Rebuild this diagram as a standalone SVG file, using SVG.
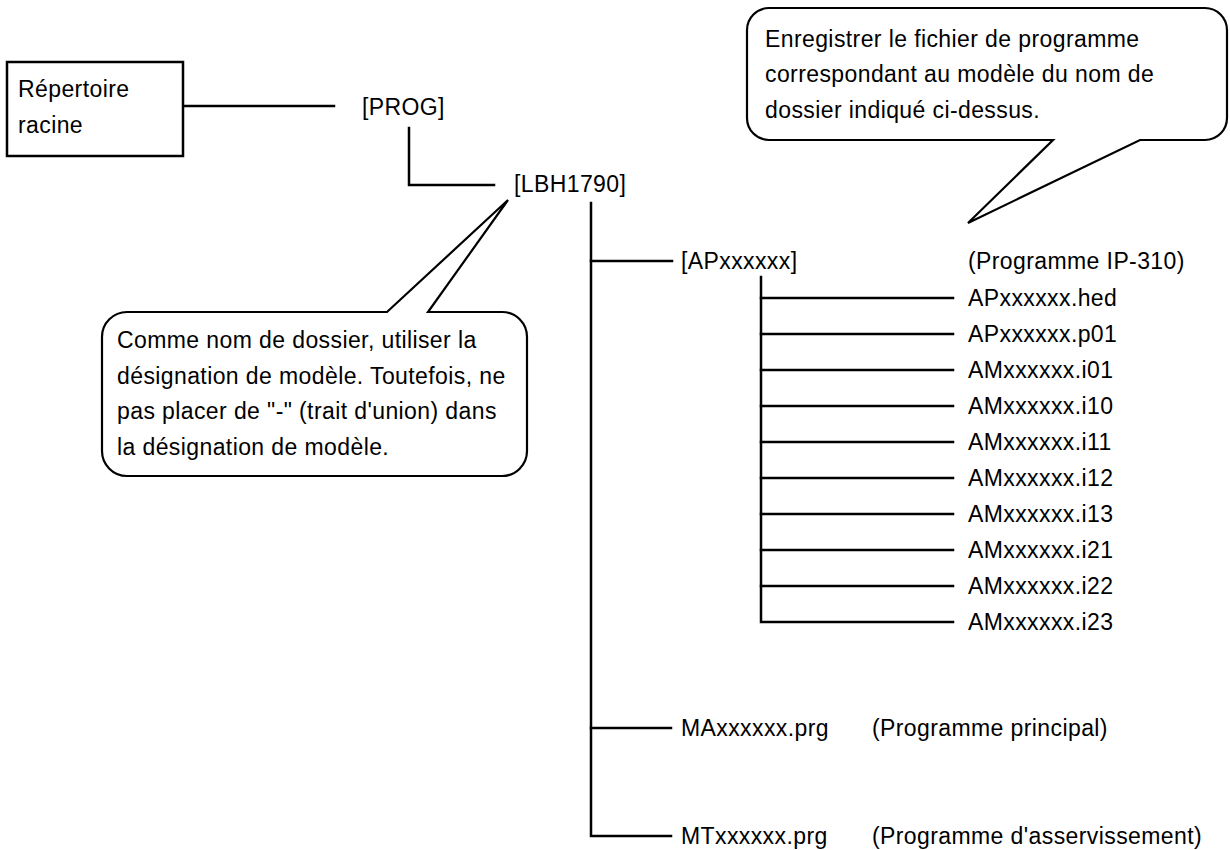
<svg xmlns="http://www.w3.org/2000/svg" width="1230" height="850" viewBox="0 0 1230 850">
<style>
text{font-family:"Liberation Sans",Arial,sans-serif;font-size:23px;letter-spacing:0.4px;fill:#000}
.ln{stroke:#000;stroke-width:2.5;fill:none;stroke-linecap:square}
.box{stroke:#000;stroke-width:2.5;fill:#fff}
.call{stroke:#000;stroke-width:2.2;fill:#fff;stroke-linejoin:miter}
</style>
<rect width="1230" height="850" fill="#fff"/>
<g id="connectors">
<path class="ln" d="M183,106 H334"/>
<path class="ln" d="M409,128 V185 H494"/>
<path class="ln" d="M591,203 V836 H671"/>
<path class="ln" d="M591,261 H672"/>
<path class="ln" d="M591,728 H671"/>
<path class="ln" d="M761,277 V622 H953"/>
<path class="ln" d="M761,298 H953 M761,334 H953 M761,370 H953 M761,406 H953 M761,442 H953 M761,478 H953 M761,514 H953 M761,550 H953 M761,586 H953"/>
</g>
<g id="root">
<rect class="box" x="7" y="62" width="176" height="94"/>
<text x="18" y="97">Répertoire</text>
<text x="18" y="133">racine</text>
</g>
<g id="prog"><text x="362" y="115">[PROG]</text></g>
<g id="lbh1790"><text x="514" y="192">[LBH1790]</text></g>
<g id="apdir">
<text x="681" y="269">[APxxxxxx]</text>
<text x="968" y="269">(Programme IP-310)</text>
</g>
<g id="files">
<text x="968" y="306">APxxxxxx.hed</text>
<text x="968" y="342">APxxxxxx.p01</text>
<text x="968" y="378">AMxxxxxx.i01</text>
<text x="968" y="414">AMxxxxxx.i10</text>
<text x="968" y="450">AMxxxxxx.i11</text>
<text x="968" y="486">AMxxxxxx.i12</text>
<text x="968" y="522">AMxxxxxx.i13</text>
<text x="968" y="558">AMxxxxxx.i21</text>
<text x="968" y="594">AMxxxxxx.i22</text>
<text x="968" y="630">AMxxxxxx.i23</text>
</g>
<g id="main">
<text x="681" y="736">MAxxxxxx.prg</text>
<text x="872" y="736">(Programme principal)</text>
</g>
<g id="servo">
<text x="681" y="844">MTxxxxxx.prg</text>
<text x="872" y="844">(Programme d'asservissement)</text>
</g>
<g id="callout-right">
<path class="call" d="M769,8 H1205 A22,22 0 0 1 1227,30 V118 A22,22 0 0 1 1205,140 H1140 L968,223 L1053,140 H769 A22,22 0 0 1 747,118 V30 A22,22 0 0 1 769,8 Z"/>
<text x="765" y="47">Enregistrer le fichier de programme</text>
<text x="765" y="82">correspondant au modèle du nom de</text>
<text x="765" y="118">dossier indiqué ci-dessus.</text>
</g>
<g id="callout-left">
<path class="call" d="M127,312 H387 L508,200 L428,312 H502 A25,25 0 0 1 527,337 V451 A25,25 0 0 1 502,476 H127 A25,25 0 0 1 102,451 V337 A25,25 0 0 1 127,312 Z"/>
<text x="117" y="348">Comme nom de dossier, utiliser la</text>
<text x="117" y="384">désignation de modèle. Toutefois, ne</text>
<text x="117" y="419">pas placer de "-" (trait d'union) dans</text>
<text x="117" y="455">la désignation de modèle.</text>
</g>
</svg>
